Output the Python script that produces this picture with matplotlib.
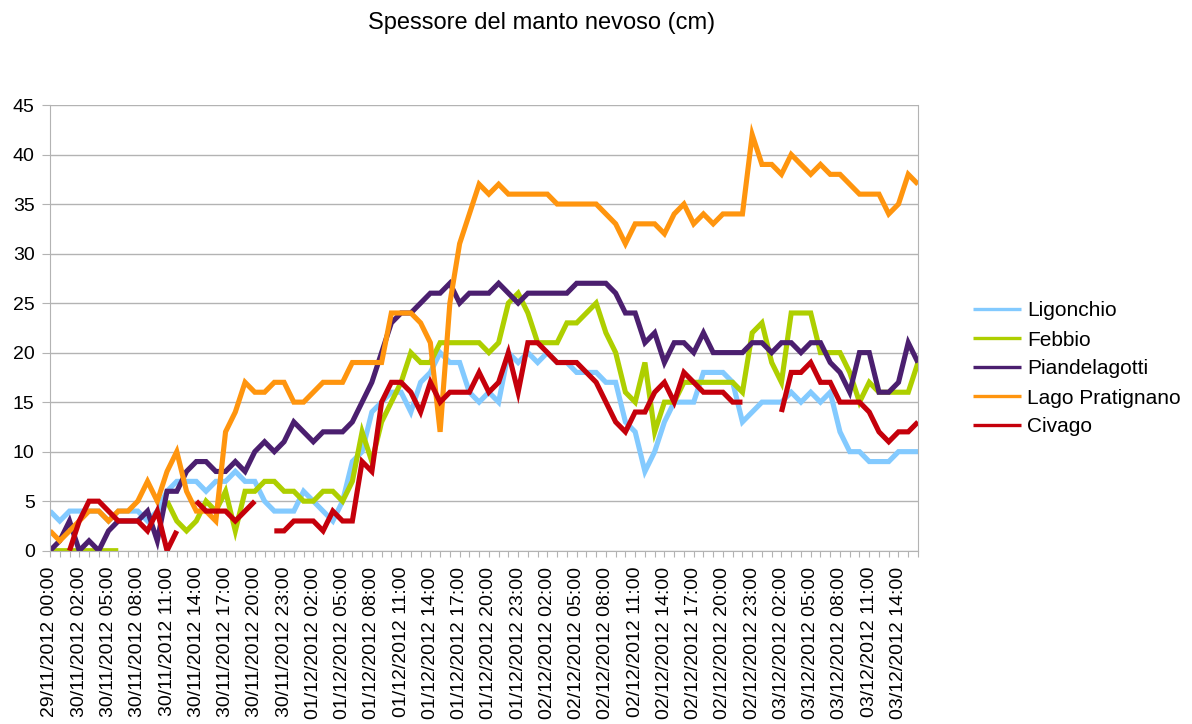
import numpy as np
import pandas as pd
import matplotlib
matplotlib.use("Agg")
import matplotlib.pyplot as plt

nan = np.nan

# Orari delle misure: il primo valore e poi una lettura ogni ora dal 30/11
ore = ["29/11/2012 00:00"] + list(
    pd.date_range("2012-11-30 00:00", periods=89, freq="h").strftime("%d/%m/%Y %H:%M")
)

# Spessore del manto nevoso (cm) per stazione
ligonchio = [4, 3, 4, 4, 4, 4, 3, 4, 4, 4, 3, 4, 6, 7, 7, 7, 6, 7, 7, 8,
             7, 7, 5, 4, 4, 4, 6, 5, 4, 3, 5, 9, 10, 14, 15, 16, 16, 14, 17, 18,
             20, 19, 19, 16, 15, 16, 15, 20, 19, 20, 19, 20, 19, 19, 18, 18, 18, 17, 17, 13,
             12, 8, 10, 13, 15, 15, 15, 18, 18, 18, 17, 13, 14, 15, 15, 15, 16, 15, 16, 15,
             16, 12, 10, 10, 9, 9, 9, 10, 10, 10]
febbio = [0, 0, 0, 0, 0, 0, 0, 0, nan, nan, nan, nan, 5, 3, 2, 3, 5, 4, 6, 2,
          6, 6, 7, 7, 6, 6, 5, 5, 6, 6, 5, 7, 12, 9, 13, 15, 17, 20, 19, 19,
          21, 21, 21, 21, 21, 20, 21, 25, 26, 24, 21, 21, 21, 23, 23, 24, 25, 22, 20, 16,
          15, 19, 12, 15, 15, 17, 17, 17, 17, 17, 17, 16, 22, 23, 19, 17, 24, 24, 24, 20,
          20, 20, 18, 15, 17, 16, 16, 16, 16, 19]
piandelagotti = [0, 1, 3, 0, 1, 0, 2, 3, 3, 3, 4, 1, 6, 6, 8, 9, 9, 8, 8, 9,
                 8, 10, 11, 10, 11, 13, 12, 11, 12, 12, 12, 13, 15, 17, 20, 23, 24, 24, 25, 26,
                 26, 27, 25, 26, 26, 26, 27, 26, 25, 26, 26, 26, 26, 26, 27, 27, 27, 27, 26, 24,
                 24, 21, 22, 19, 21, 21, 20, 22, 20, 20, 20, 20, 21, 21, 20, 21, 21, 20, 21, 21,
                 19, 18, 16, 20, 20, 16, 16, 17, 21, 19]
lago_pratignano = [2, 1, 2, 3, 4, 4, 3, 4, 4, 5, 7, 5, 8, 10, 6, 4, 4, 3, 12, 14,
                   17, 16, 16, 17, 17, 15, 15, 16, 17, 17, 17, 19, 19, 19, 19, 24, 24, 24, 23, 21,
                   12, 25, 31, 34, 37, 36, 37, 36, 36, 36, 36, 36, 35, 35, 35, 35, 35, 34, 33, 31,
                   33, 33, 33, 32, 34, 35, 33, 34, 33, 34, 34, 34, 42, 39, 39, 38, 40, 39, 38, 39,
                   38, 38, 37, 36, 36, 36, 34, 35, 38, 37]
civago = [nan, nan, 0, 3, 5, 5, 4, 3, 3, 3, 2, 4, 0, 2, nan, 5, 4, 4, 4, 3,
          4, 5, nan, 2, 2, 3, 3, 3, 2, 4, 3, 3, 9, 8, 15, 17, 17, 16, 14, 17,
          15, 16, 16, 16, 18, 16, 17, 20, 16, 21, 21, 20, 19, 19, 19, 18, 17, 15, 13, 12,
          14, 14, 16, 17, 15, 18, 17, 16, 16, 16, 15, 15, nan, nan, nan, 14, 18, 18, 19, 17,
          17, 15, 15, 15, 14, 12, 11, 12, 12, 13]

stazioni = ["Ligonchio", "Febbio", "Piandelagotti", "Lago Pratignano", "Civago"]
serie = [ligonchio, febbio, piandelagotti, lago_pratignano, civago]
colori = ["#83caff", "#aecf00", "#4b1f6f", "#ff950e", "#c5000b"]

plt.rcParams["font.family"] = ["Liberation Sans", "DejaVu Sans"]
grigio = "#b3b3b3"

fig = plt.figure(figsize=(11.92, 7.24), dpi=100)
ax = fig.add_axes([50 / 1192, 1 - 550.7 / 724, 868 / 1192, 445.7 / 724])

x = np.arange(len(ore))
for nome, valori, colore in zip(stazioni, serie, colori):
    ax.plot(x, np.array(valori, dtype=float), color=colore, lw=3.7, label=nome,
            solid_joinstyle="miter", solid_capstyle="butt")

ax.set_xlim(0, len(ore) - 1)
ax.set_ylim(0, 45)
ax.set_yticks(range(0, 46, 5))
ax.grid(axis="y", color=grigio, lw=1)
ax.set_axisbelow(True)

# una tacca per ogni ora, etichetta ogni tre ore
ax.set_xticks(x)
ax.set_xticklabels([o if i % 3 == 0 else "" for i, o in enumerate(ore)], rotation=90)

for lato in ["left", "bottom", "right"]:
    ax.spines[lato].set_color(grigio)
ax.spines["top"].set_visible(False)
ax.tick_params(axis="y", length=6, color=grigio, labelsize=14, pad=5)
ax.tick_params(axis="x", length=4.5, color=grigio, labelsize=14, pad=7)

fig.text(542 / 1192, 1 - 23 / 724, "Spessore del manto nevoso (cm)",
         ha="center", va="center", fontsize=17)

leg = fig.legend(loc="center left", bbox_to_anchor=(973 / 1192, 1 - 369 / 724),
                 frameon=False, fontsize=15, handlelength=2.3, handletextpad=0.3,
                 labelspacing=0.48, borderpad=0, borderaxespad=0)
for linea in leg.get_lines():
    linea.set_linewidth(2.4)

fig.savefig("out.png", dpi=100)
